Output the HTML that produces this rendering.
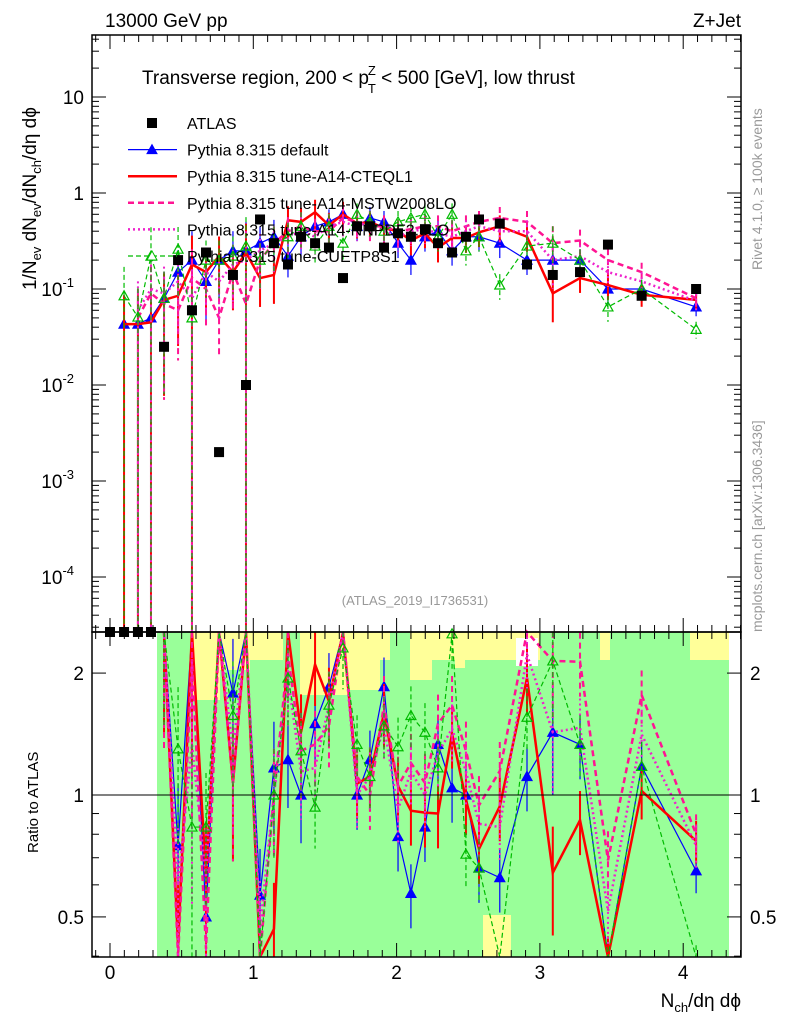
<!DOCTYPE html>
<html><head><meta charset="utf-8">
<style>
html,body{margin:0;padding:0;background:#fff;}
svg{display:block;font-family:"Liberation Sans",sans-serif;}
</style></head>
<body>
<svg id="chart" width="786" height="1024" viewBox="0 0 786 1024" xmlns="http://www.w3.org/2000/svg">
<rect width="786" height="1024" fill="#fff"/>
<g id="bands"></g>
<g id="marks"></g>
<g id="axes"></g>
<text x="105" y="27" font-size="19">13000 GeV pp</text>
<text x="741" y="27" font-size="19" text-anchor="end">Z+Jet</text>
<text x="142" y="84" font-size="19">Transverse region, 200 &lt; p<tspan font-size="13" dx="-1" dy="-9">Z</tspan><tspan font-size="13" dx="-8" dy="18">T</tspan><tspan dy="-9"> &lt; 500 [GeV], low thrust</tspan></text>
<text x="415" y="605" font-size="13" fill="#999" text-anchor="middle">(ATLAS_2019_I1736531)</text>
<text transform="translate(762,270) rotate(-90)" font-size="14" fill="#999">Rivet 4.1.0, ≥ 100k events</text>
<text transform="translate(762,632) rotate(-90)" font-size="14" fill="#999">mcplots.cern.ch [arXiv:1306.3436]</text>
<text transform="translate(36,290) rotate(-90)" font-size="19">1/N<tspan font-size="13" dy="5">ev</tspan><tspan dy="-5"> dN</tspan><tspan font-size="13" dy="5">ev</tspan><tspan dy="-5">/dN</tspan><tspan font-size="13" dy="5">ch</tspan><tspan dy="-5">/dη dϕ</tspan></text>
<text transform="translate(38,853) rotate(-90)" font-size="15">Ratio to ATLAS</text>
<text x="741" y="1007" font-size="19" text-anchor="end">N<tspan font-size="13" dy="5">ch</tspan><tspan dy="-5">/dη dϕ</tspan></text>
<g id="legend"></g>
</svg>
<script>
const xs =    [0,0.098,0.195,0.286,0.377,0.475,0.572,0.670,0.761,0.858,0.949,1.047,1.144,1.242,1.333,1.431,1.528,1.626,1.724,1.814,1.912,2.01,2.10,2.198,2.289,2.387,2.484,2.575,2.72,2.91,3.09,3.28,3.475,3.71,4.09];
const atlas = [0,0,0,0,0.025,0.2,0.06,0.24,0.002,0.14,0.01,0.53,0.3,0.18,0.35,0.3,0.27,0.13,0.45,0.45,0.27,0.38,0.35,0.42,0.3,0.24,0.35,0.53,0.48,0.18,0.14,0.15,0.29,0.085,0.1];
const pyDefault = [null,0.043,0.043,0.05,0.08,0.15,0.2,0.12,0.2,0.25,0.25,0.3,0.35,0.22,0.35,0.45,0.5,0.6,0.45,0.55,0.5,0.3,0.2,0.35,0.4,0.25,0.35,0.35,0.3,0.2,0.2,0.2,0.1,0.1,0.065];
const pyCTEQ =    [null,0.043,0.043,0.045,0.077,0.085,0.18,0.15,0.22,0.15,0.24,0.13,0.14,0.52,0.5,0.63,0.46,0.6,0.48,0.5,0.43,0.4,0.32,0.38,0.27,0.34,0.34,0.39,0.45,0.35,0.09,0.13,0.11,0.087,0.077];
const pyMSTW =    [null,null,0.05,0.09,0.07,0.06,0.13,0.1,0.05,0.15,0.07,0.2,0.3,0.4,0.45,0.4,0.4,0.55,0.5,0.45,0.45,0.4,0.42,0.45,0.45,0.4,0.45,0.5,0.55,0.5,0.3,0.32,0.2,0.15,0.08];
const pyNNPDF =   [null,null,0.06,0.1,0.09,0.12,0.08,0.15,0.12,0.18,0.2,0.25,0.3,0.35,0.4,0.35,0.45,0.5,0.45,0.5,0.4,0.35,0.4,0.42,0.38,0.35,0.4,0.45,0.4,0.4,0.2,0.22,0.15,0.12,0.075];
const pyCUETP8 =  [null,0.085,0.051,0.22,0.08,0.26,0.05,0.2,0.2,0.22,0.28,0.2,0.3,0.35,0.45,0.28,0.45,0.3,0.6,0.5,0.4,0.5,0.55,0.6,0.35,0.6,0.25,0.35,0.11,0.28,0.3,0.2,0.065,0.1,0.038];
const mcRelErr =  [0,1,1,1,0.9,0.7,1,0.6,0.6,0.6,1,0.5,0.5,0.4,0.4,0.35,0.35,0.35,0.3,0.3,0.3,0.3,0.3,0.3,0.3,0.3,0.3,0.3,0.3,0.3,0.5,0.3,0.3,0.25,0.2];
const mainTicks = [10,1,0.1,0.01,0.001,0.0001];
const mainTickLabels = ["10","1","10|-1","10|-2","10|-3","10|-4"];
const xTicks = [0,1,2,3,4];
const ratioTicks = [0.5,1,2];

const NS="http://www.w3.org/2000/svg";
const L=92,R=741,T=35,MB=632,RB=957;
const fx=v=>110+v*143.3;
const fy=v=>289-(Math.log10(v)+1)*96;
const fr=v=>795-Math.log10(v)*405;
function mk(tag,at,parent){const e=document.createElementNS(NS,tag);for(const k in at)e.setAttribute(k,at[k]);(parent||document.getElementById('marks')).appendChild(e);return e;}
const clampM=y=>Math.max(T,Math.min(MB,y));
const clampR=y=>Math.max(MB,Math.min(RB,y));

const bands=document.getElementById('bands');
let yb=mk('rect',{x:157,y:MB,width:572,height:RB-MB,fill:'#ffff99'},bands);


let gb=mk('rect',{x:157,y:660,width:572,height:RB-660,fill:'#99ff99'},bands);


[[157,192],[283,300],[390,420],[540,600],[610,690]].forEach(s=>{mk('rect',{x:s[0],y:MB,width:s[1]-s[0],height:30,fill:'#99ff99'},bands);});
[[192,220,700],[220,250,670],[300,350,695],[350,380,690],[410,432,680],[455,465,668]].forEach(s=>{mk('rect',{x:s[0],y:MB,width:s[1]-s[0],height:s[2]-MB,fill:'#ffff99'},bands);});
mk('rect',{x:516,y:638,width:22,height:28,fill:'#fff'},bands);
mk('rect',{x:483,y:915,width:28,height:42,fill:'#ffff99'},bands);

const series=[
 {name:'pythia-default',vals:pyDefault,color:'#0000ff',w:1.2,dash:'',marker:'tri-fill'},
 {name:'pythia-a14-cteql1',vals:pyCTEQ,color:'#ff0000',w:2.5,dash:'',marker:'none'},
 {name:'pythia-a14-mstw2008lo',vals:pyMSTW,color:'#ff1493',w:2.5,dash:'6,4',marker:'none'},
 {name:'pythia-a14-nnpdf23lo',vals:pyNNPDF,color:'#ee22cc',w:2.5,dash:'2,3',marker:'none'},
 {name:'pythia-cuetp8s1',vals:pyCUETP8,color:'#00bb00',w:1.2,dash:'5,3',marker:'tri-open'}
];
function tri(x,y,s,fill,col){const p=mk('polygon',{points:`${x},${y-5} ${x-5},${y+4} ${x+5},${y+4}`,fill:fill,stroke:col,'stroke-width':1.2});}

series.forEach(s=>{
  let pts=[],rpts=[];
  s.vals.forEach((v,i)=>{
    if(v==null)return;
    const x=fx(xs[i]);
    pts.push(x+','+clampM(fy(v)));
    const lo=v*(1-mcRelErr[i]),hi=v*(1+mcRelErr[i]);
    mk('line',{x1:x,x2:x,y1:clampM(fy(hi)),y2:lo>0?clampM(fy(lo)):MB,stroke:s.color,'stroke-width':Math.min(s.w,2),'stroke-dasharray':s.dash});
    if(atlas[i]>0){
      const r=v/atlas[i];
      rpts.push(x+','+clampR(fr(r)));
      const rl=r*(1-mcRelErr[i]*0.6),rh=r*(1+mcRelErr[i]*0.6);
      mk('line',{x1:x,x2:x,y1:clampR(fr(rh)),y2:rl>0?clampR(fr(rl)):RB,stroke:s.color,'stroke-width':Math.min(s.w,2),'stroke-dasharray':s.dash});
    }
  });
  const pl=mk('polyline',{points:pts.join(' '),fill:'none',stroke:s.color,'stroke-width':s.w,'stroke-dasharray':s.dash});
  
  
  const rl=mk('polyline',{points:rpts.join(' '),fill:'none',stroke:s.color,'stroke-width':s.w,'stroke-dasharray':s.dash});
  
  
  if(s.marker!=='none'){
    s.vals.forEach((v,i)=>{
      if(v==null)return;
      const x=fx(xs[i]);
      tri(x,clampM(fy(v)),s.name,s.marker==='tri-fill'?s.color:'none',s.color);
      if(atlas[i]>0){const y=fr(v/atlas[i]);if(y>=MB&&y<=RB)tri(x,y,s.name,s.marker==='tri-fill'?s.color:'none',s.color);}
    });
  }
});
atlas.forEach((v,i)=>{
  const x=fx(xs[i]);const y=v>0?fy(v):MB;
  const r=mk('rect',{x:x-5,y:y-5,width:10,height:10,fill:'#000'});
  
  
});
const one=mk('line',{x1:L,x2:R,y1:fr(1),y2:fr(1),stroke:'#000','stroke-width':1});



const ax=document.getElementById('axes');
const f1=mk('rect',{x:L,y:T,width:R-L,height:MB-T,fill:'none',stroke:'#000','stroke-width':1.5},ax);


const f2=mk('rect',{x:L,y:MB,width:R-L,height:RB-MB,fill:'none',stroke:'#000','stroke-width':1.5},ax);


for(let v=-0.1;v<=4.41;v+=0.1){
  const vv=Math.round(v*10)/10,x=fx(vv);if(x<L||x>R)continue;
  const major=Math.abs(vv-Math.round(vv))<1e-6;const len=major?14:7;
  [[T,1],[MB,-1],[MB,1],[RB,-1]].forEach(p=>mk('line',{x1:x,x2:x,y1:p[0],y2:p[0]+p[1]*len,stroke:'#000'},ax));
}
xTicks.forEach(v=>{const t=mk('text',{x:fx(v),y:979,'font-size':19,'text-anchor':'middle'},ax);t.textContent=v;});
for(let d=-5;d<=1;d++){for(let m=1;m<=9;m++){const v=m*Math.pow(10,d),y=fy(v);if(y<T||y>MB)continue;const len=m===1?14:7;
  mk('line',{x1:L,x2:L+len,y1:y,y2:y,stroke:'#000'},ax);mk('line',{x1:R,x2:R-len,y1:y,y2:y,stroke:'#000'},ax);}}
mainTicks.forEach((v,i)=>{const parts=mainTickLabels[i].split('|');const t=mk('text',{x:parts[1]?74:84,y:fy(v)+7,'font-size':19,'text-anchor':'end'},ax);
  
  t.textContent=parts[0];if(parts[1]){const s=mk('tspan',{'font-size':13,dy:-9},t);s.textContent=parts[1];}});
[0.4,0.5,0.6,0.7,0.8,0.9,1,2].forEach(v=>{const y=fr(v);if(y<MB||y>RB)return;const len=(v===0.5||v===1||v===2)?14:7;
  mk('line',{x1:L,x2:L+len,y1:y,y2:y,stroke:'#000'},ax);mk('line',{x1:R,x2:R-len,y1:y,y2:y,stroke:'#000'},ax);});
ratioTicks.forEach(v=>{[[84,'end'],[750,'start']].forEach(p=>{const t=mk('text',{x:p[0],y:fr(v)+7,'font-size':19,'text-anchor':p[1]},ax);t.textContent=v;});});

const lg=document.getElementById('legend');
const leg=[['ATLAS','sq','#000',0,''],['Pythia 8.315 default','tri-fill','#0000ff',1.2,''],['Pythia 8.315 tune-A14-CTEQL1','none','#ff0000',2.5,''],['Pythia 8.315 tune-A14-MSTW2008LO','none','#ff1493',2.5,'6,4'],['Pythia 8.315 tune-A14-NNPDF2.3LO','none','#ee22cc',2.5,'2,3'],['Pythia 8.315 tune-CUETP8S1','tri-open','#00bb00',1.2,'5,3']];
leg.forEach((e,i)=>{const y=123+i*26.6;
  const g=mk('g',{},lg);
  if(e[1]==='sq')mk('rect',{x:147,y:y-5,width:10,height:10,fill:'#000'},g);
  else mk('line',{x1:128,x2:177,y1:y,y2:y,stroke:e[2],'stroke-width':e[3],'stroke-dasharray':e[4]},g);
  if(e[1]==='tri-fill'||e[1]==='tri-open')mk('polygon',{points:`152,${y-5} 147,${y+4} 157,${y+4}`,fill:e[1]==='tri-fill'?e[2]:'#fff',stroke:e[2]},g);
  const t=mk('text',{x:187,y:y+6,'font-size':16},g);t.textContent=e[0];});
</script>
</body></html>
